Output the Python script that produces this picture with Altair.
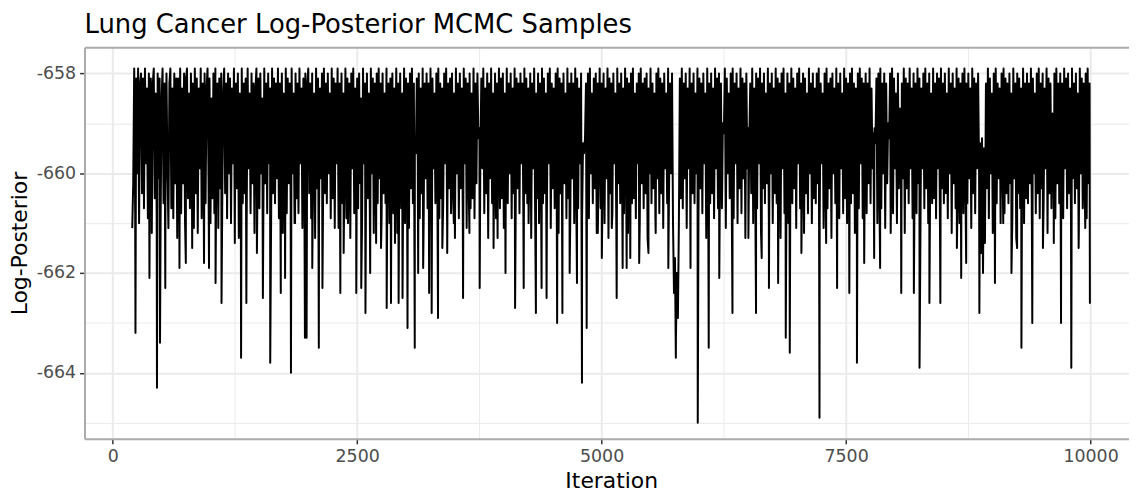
import altair as alt
import pandas as pd

TITLE = "Lung Cancer Log-Posterior MCMC Samples"
X_TITLE = "Iteration"
Y_TITLE = "Log-Posterior"

x_major = [0, 2500, 5000, 7500, 10000]
x_minor = [1250, 3750, 6250, 8750]
y_major = [-658, -660, -662, -664]
y_minor = [-659, -661, -663, -665]
x_domain = [-288, 10393]
y_domain = [-665.324, -657.475]

# thinned trace (one value every 10 iterations)
step = 10
lp_0200 = [
    -661.1, -660.2, -657.9, -660.8, -658.1, -660.0, -657.9, -661.0, -658.2, -658.0,
    -660.4, -658.1, -660.7, -657.9, -659.8, -658.3, -660.9, -658.0, -660.3, -658.1,
    -661.2, -658.2, -657.9, -660.5, -658.4, -660.9, -658.0, -660.1, -658.1, -661.0,
    -658.5, -657.9, -660.6, -658.2, -660.3, -658.0, -659.9, -661.1, -658.2, -657.9,
    -660.7, -658.3, -660.9, -658.0, -660.2, -658.1, -661.3, -658.1, -659.8, -657.9]
lp_0700 = [
    -660.8, -658.3, -660.2, -658.0, -661.0, -658.1, -657.9, -660.5, -658.4, -660.7,
    -658.0, -660.0, -658.2, -661.1, -657.9, -660.4, -658.1, -661.2, -658.3, -659.9,
    -657.9, -660.9, -658.2, -660.3, -658.0, -660.6, -658.3, -657.9, -660.1, -658.1,
    -661.0, -658.5, -660.5, -658.0, -660.8, -657.9, -659.9, -658.2, -661.1, -658.1,
    -660.3, -658.0, -660.7, -658.4, -657.9, -660.4, -658.2, -660.9, -658.0, -660.0]
lp_1200 = [
    -658.1, -661.0, -658.3, -659.8, -657.9, -660.7, -658.2, -660.3, -658.0, -661.3,
    -658.4, -660.1, -657.9, -660.6, -658.2, -660.4, -658.1, -661.0, -657.9, -659.9,
    -658.4, -660.8, -658.0, -660.2, -658.2, -661.2, -658.3, -657.9, -660.5, -658.1,
    -660.7, -658.0, -660.0, -658.5, -661.1, -657.9, -660.2, -658.2, -660.8, -658.0,
    -659.8, -658.3, -661.0, -657.9, -660.4, -658.1, -660.6, -658.2, -660.1, -657.9]
lp_1700 = [
    -660.9, -658.2, -660.3, -658.0, -661.2, -658.4, -659.9, -657.9, -660.8, -658.1,
    -660.2, -658.2, -660.6, -657.9, -660.0, -658.4, -661.0, -658.0, -660.5, -658.2,
    -660.8, -657.9, -659.8, -658.3, -661.1, -658.1, -660.2, -658.0, -660.7, -658.2,
    -657.9, -660.4, -658.2, -660.9, -658.0, -659.9, -658.4, -661.3, -657.9, -660.3,
    -658.1, -660.8, -658.3, -660.1, -658.0, -661.0, -657.9, -660.4, -658.2, -660.6]
lp_2200 = [
    -658.0, -660.0, -658.4, -660.9, -657.9, -660.5, -658.1, -660.7, -658.2, -659.8,
    -657.9, -661.1, -658.2, -660.3, -658.0, -660.6, -658.4, -660.1, -657.9, -660.9,
    -658.1, -660.4, -658.2, -661.3, -658.0, -659.9, -657.9, -660.8, -658.3, -660.3,
    -658.1, -660.7, -658.0, -660.2, -658.5, -661.0, -657.9, -659.8, -658.2, -660.7,
    -658.0, -660.5, -658.4, -660.9, -657.9, -660.0, -658.1, -661.2, -658.2, -660.3]
lp_2700 = [
    -658.0, -660.6, -657.9, -660.1, -658.2, -660.9, -658.0, -660.4, -658.4, -660.6,
    -657.9, -659.9, -658.2, -661.0, -658.1, -660.3, -658.0, -660.8, -658.3, -659.8,
    -657.9, -661.2, -658.2, -660.2, -658.0, -660.7, -658.4, -660.5, -657.9, -661.0,
    -658.1, -660.0, -658.2, -661.1, -658.0, -660.3, -657.9, -660.6, -658.2, -659.4,
    -659.6, -658.1, -659.8, -658.0, -660.9, -658.3, -660.4, -657.9, -661.0, -658.2]
lp_3200 = [
    -660.1, -658.0, -660.7, -658.2, -660.3, -657.9, -661.2, -658.1, -659.9, -658.4,
    -660.6, -658.0, -660.2, -657.9, -660.9, -658.2, -660.5, -658.3, -660.6, -658.0,
    -659.8, -657.9, -661.0, -658.2, -660.3, -658.1, -660.8, -658.0, -660.4, -658.4,
    -661.3, -657.9, -660.0, -658.2, -660.9, -658.0, -660.3, -658.3, -660.7, -657.9,
    -659.8, -658.1, -661.1, -658.2, -660.2, -658.0, -660.7, -658.4, -660.5, -657.9]
lp_3700 = [
    -660.9, -658.2, -660.2, -658.0, -659.3, -659.1, -659.6, -658.1, -659.9, -657.9,
    -660.8, -658.3, -660.4, -658.0, -661.3, -658.2, -660.1, -657.9, -660.6, -658.4,
    -660.3, -658.0, -660.9, -658.2, -659.8, -657.9, -660.7, -658.1, -660.5, -658.0,
    -661.1, -658.4, -660.2, -657.9, -660.6, -658.2, -660.0, -658.0, -660.9, -658.3,
    -660.4, -657.9, -661.2, -658.1, -660.3, -658.2, -660.8, -658.0, -659.8, -658.2]
lp_4200 = [
    -661.0, -657.9, -660.4, -658.1, -660.6, -658.3, -660.1, -658.0, -661.3, -658.2,
    -659.9, -657.9, -660.8, -658.4, -660.5, -658.0, -661.0, -658.2, -660.2, -657.9,
    -660.6, -658.1, -660.4, -658.4, -660.9, -658.0, -659.8, -657.9, -661.1, -658.2,
    -660.3, -658.3, -660.7, -658.0, -660.0, -657.9, -661.2, -658.1, -660.4, -658.2,
    -660.6, -658.0, -660.2, -658.4, -660.9, -657.9, -660.5, -658.2, -660.8, -658.0]
lp_4700 = [
    -660.1, -658.2, -661.0, -657.9, -660.4, -658.1, -660.7, -658.3, -659.8, -658.0,
    -660.9, -659.4, -659.6, -659.3, -658.2, -660.5, -658.0, -660.9, -657.9, -660.0,
    -658.4, -660.6, -658.1, -660.3, -658.0, -661.2, -658.2, -659.9, -657.9, -660.7,
    -658.2, -660.3, -658.0, -661.0, -658.3, -660.1, -657.9, -661.3, -658.1, -660.4,
    -658.2, -660.8, -658.0, -659.8, -658.4, -661.0, -657.9, -660.2, -658.2, -660.6]
lp_5200 = [
    -658.0, -660.3, -658.3, -660.8, -657.9, -659.9, -658.1, -661.2, -658.2, -660.3,
    -658.0, -660.6, -657.9, -660.5, -658.4, -660.9, -658.2, -659.8, -658.0, -661.0,
    -657.9, -660.2, -658.2, -660.7, -658.1, -660.4, -658.0, -661.3, -658.3, -660.0,
    -657.9, -660.6, -658.2, -660.3, -658.4, -660.9, -658.0, -660.1, -657.9, -660.8,
    -658.1, -660.4, -658.2, -661.1, -658.0, -659.9, -658.4, -660.6, -657.9, -660.2]
lp_5700 = [
    -658.2, -660.0, -658.0, -661.0, -662.4, -661.7, -663.3, -662.0, -662.9, -661.0,
    -658.1, -660.5, -657.9, -660.7, -658.2, -660.1, -658.0, -661.1, -658.3, -659.9,
    -657.9, -660.8, -658.2, -660.4, -658.0, -660.6, -658.4, -660.0, -657.9, -661.0,
    -658.1, -660.3, -658.2, -660.8, -658.0, -659.8, -658.4, -661.3, -657.9, -660.2,
    -658.2, -660.6, -658.0, -660.4, -658.3, -660.9, -657.9, -659.9, -658.1, -660.7]
lp_6200 = [
    -658.0, -660.2, -658.2, -660.7, -659.0, -659.2, -657.9, -661.1, -658.1, -660.0,
    -658.4, -660.5, -658.0, -660.4, -657.9, -660.9, -658.2, -659.8, -658.0, -661.0,
    -658.3, -660.3, -657.9, -660.8, -658.1, -660.1, -658.2, -661.3, -658.0, -659.9,
    -659.1, -659.3, -658.2, -660.4, -657.9, -661.0, -658.3, -660.1, -658.0, -660.7,
    -658.1, -659.8, -657.9, -661.2, -658.2, -660.3, -658.0, -660.6, -658.4, -660.2]
lp_6700 = [
    -657.9, -660.9, -658.2, -660.0, -658.0, -661.0, -658.3, -660.4, -657.9, -660.6,
    -658.1, -660.2, -658.2, -661.3, -658.0, -659.9, -657.9, -660.8, -658.4, -660.5,
    -658.0, -661.0, -658.2, -660.1, -657.9, -660.6, -658.1, -660.3, -658.3, -661.1,
    -658.0, -659.8, -657.9, -660.7, -658.2, -660.2, -658.0, -661.2, -658.1, -660.4,
    -658.4, -660.8, -657.9, -660.0, -658.2, -661.0, -658.0, -660.5, -658.3, -660.6]
lp_7200 = [
    -658.0, -660.2, -657.9, -660.9, -658.2, -659.8, -658.4, -661.1, -658.0, -660.4,
    -657.9, -660.7, -658.2, -660.3, -658.1, -661.3, -658.0, -660.0, -658.3, -660.6,
    -657.9, -660.4, -658.2, -660.9, -658.0, -659.9, -658.4, -660.8, -657.9, -660.5,
    -658.1, -661.0, -658.2, -660.1, -658.0, -660.6, -657.9, -660.4, -658.2, -661.2,
    -658.3, -660.2, -658.0, -660.7, -657.9, -659.8, -658.1, -660.9, -658.2, -660.3]
lp_7700 = [
    -658.0, -660.8, -658.2, -660.2, -657.9, -660.6, -658.3, -659.9, -659.2, -659.1,
    -659.4, -658.1, -661.0, -658.0, -660.4, -657.9, -660.7, -658.2, -660.0, -658.0,
    -661.1, -658.2, -660.2, -659.0, -659.3, -658.0, -660.5, -657.9, -660.8, -658.1,
    -659.9, -658.4, -661.0, -658.0, -660.3, -658.7, -658.9, -658.2, -660.1, -657.9,
    -661.2, -658.1, -660.3, -658.2, -660.6, -657.9, -659.9, -658.3, -660.9, -658.0]
lp_8200 = [
    -660.4, -658.2, -660.8, -657.9, -660.2, -658.1, -661.3, -658.3, -659.9, -658.0,
    -660.7, -657.9, -660.3, -658.2, -661.0, -658.0, -660.1, -658.4, -660.6, -657.9,
    -660.5, -658.2, -660.9, -658.0, -659.9, -658.1, -661.1, -657.9, -660.3, -658.2,
    -660.6, -658.0, -660.4, -658.4, -660.9, -657.9, -660.0, -658.2, -661.2, -658.0,
    -660.2, -658.3, -660.7, -657.9, -660.5, -658.1, -661.0, -658.2, -659.8, -658.0]
lp_8700 = [
    -660.8, -657.9, -660.3, -658.2, -660.6, -658.0, -660.1, -658.3, -661.1, -657.9,
    -660.4, -658.1, -660.8, -658.2, -659.9, -658.0, -660.0, -659.4, -661.6, -659.3,
    -662.0, -659.5, -661.4, -658.2, -660.3, -657.9, -660.9, -658.1, -660.0, -658.4,
    -661.2, -658.0, -660.5, -657.9, -660.6, -658.2, -660.1, -658.3, -661.0, -658.0,
    -659.9, -657.9, -660.8, -658.1, -660.4, -658.2, -660.6, -658.0, -660.2, -658.4]
lp_9200 = [
    -660.9, -657.9, -660.1, -658.2, -661.3, -658.0, -660.4, -658.1, -660.7, -658.3,
    -659.8, -657.9, -661.0, -658.2, -660.5, -658.0, -660.6, -658.2, -660.2, -657.9,
    -661.1, -658.1, -660.0, -658.4, -660.8, -658.0, -660.4, -657.9, -660.9, -658.2,
    -660.3, -658.0, -660.6, -658.3, -659.9, -657.9, -661.2, -658.1, -660.4, -658.2,
    -660.7, -658.8, -659.0, -658.0, -660.9, -657.9, -660.2, -658.2, -660.6, -658.0]
lp_9700 = [
    -660.3, -658.2, -660.9, -657.9, -659.9, -658.1, -660.7, -658.0, -660.4, -658.3,
    -661.0, -657.9, -660.1, -658.2, -660.6, -658.0, -660.3, -658.4, -661.2, -657.9,
    -660.0, -658.1, -660.7, -658.2, -660.4, -658.0, -660.9, -657.9, -660.2, -658.2,
    -662.6]

chunks = {
    200: lp_0200, 700: lp_0700, 1200: lp_1200, 1700: lp_1700, 2200: lp_2200,
    2700: lp_2700, 3200: lp_3200, 3700: lp_3700, 4200: lp_4200, 4700: lp_4700,
    5200: lp_5200, 5700: lp_5700, 6200: lp_6200, 6700: lp_6700, 7200: lp_7200,
    7700: lp_7700, 8200: lp_8200, 8700: lp_8700, 9200: lp_9200, 9700: lp_9700,
}

# single-iteration dips visible as thin downward spikes
spike_iterations = [
    233, 376, 453, 484, 538, 683, 748, 813, 934, 985,
    1052, 1113, 1249, 1313, 1367, 1475, 1536, 1611, 1719, 1763,
    1823, 1865, 1966, 1983, 2041, 2108, 2145, 2271, 2328, 2362,
    2406, 2491, 2542, 2585, 2633, 2694, 2744, 2802, 2846, 2887,
    2924, 2964, 3015, 3089, 3124, 3175, 3236, 3262, 3327, 3371,
    3421, 3489, 3583, 3648, 3753, 3895, 3936, 4017, 4115, 4203,
    4253, 4328, 4386, 4437, 4545, 4599, 4673, 4748, 4799, 4847,
    4961, 5002, 5104, 5154, 5215, 5256, 5293, 5384, 5479, 5553,
    5682, 5759, 5909, 5983, 6095, 6203, 6338, 6501, 6579, 6637,
    6711, 6805, 6883, 6924, 7043, 7228, 7296, 7408, 7533, 7611,
    7685, 7787, 7848, 7956, 8064, 8193, 8251, 8352, 8464, 8633,
    8677, 8728, 8863, 9022, 9107, 9191, 9249, 9293, 9404, 9513,
    9624, 9698, 9803, 9878, 9946, 9993]
spike_values = [
    -663.2, -662.1, -664.3, -663.4, -662.3, -661.9, -661.8, -661.5, -661.8, -661.9,
    -662.2, -662.6, -661.4, -663.7, -662.6, -661.6, -662.5, -663.8, -662.4, -662.1,
    -664.0, -661.0, -663.3, -663.3, -661.9, -663.5, -662.3, -661.1, -662.4, -661.6,
    -661.0, -662.4, -662.3, -662.8, -662.0, -661.4, -661.5, -662.7, -662.6, -661.4,
    -662.6, -662.5, -663.1, -663.5, -662.0, -661.9, -662.4, -662.8, -662.9, -661.5,
    -661.6, -661.0, -662.5, -661.2, -662.3, -661.5, -661.3, -662.0, -662.7, -662.3,
    -661.0, -662.8, -662.3, -662.5, -663.0, -662.8, -662.0, -662.2, -664.2, -663.1,
    -661.2, -661.7, -661.1, -662.5, -661.9, -661.9, -661.7, -661.8, -661.6, -661.2,
    -661.9, -663.7, -661.9, -665.0, -663.5, -662.1, -662.8, -661.3, -662.8, -661.7,
    -662.3, -662.2, -663.3, -663.6, -661.6, -664.9, -661.4, -662.3, -662.4, -663.8,
    -661.8, -661.7, -661.9, -661.2, -662.4, -662.4, -663.9, -662.6, -662.6, -661.5,
    -662.1, -661.8, -662.8, -662.2, -661.0, -662.0, -661.5, -663.5, -663.0, -661.5,
    -661.4, -663.0, -663.9, -661.5, -661.1, -662.6]

rows = []
for start, vals in chunks.items():
    for j, v in enumerate(vals):
        rows.append((start + step * j, v))
for it, v in zip(spike_iterations, spike_values):
    rows.append((it, v))
df = pd.DataFrame(rows, columns=["iteration", "log_posterior"]).sort_values("iteration")

FONT = "DejaVu Sans"
x_scale = alt.Scale(domain=x_domain, nice=False, zero=False)
y_scale = alt.Scale(domain=y_domain, nice=False, zero=False)

grid_layer = alt.Chart(df).mark_line(strokeOpacity=0).encode(
    x=alt.X("iteration:Q", scale=x_scale,
            axis=alt.Axis(orient="top", values=x_minor, grid=True, gridWidth=1,
                          ticks=False, labels=False, domain=True, title=None)),
    y=alt.Y("log_posterior:Q", scale=y_scale,
            axis=alt.Axis(orient="right", values=y_minor, grid=True, gridWidth=1,
                          ticks=False, labels=False, domain=False, title=None)),
)

trace = alt.Chart(df).mark_line(color="black", strokeWidth=2, strokeJoin="round").encode(
    x=alt.X("iteration:Q", scale=x_scale,
            axis=alt.Axis(values=x_major, grid=True, gridWidth=2,
                          labelExpr="'' + datum.value", labelPadding=4, tickSize=5,
                          title=X_TITLE, titleX=530, titleY=49, titleAlign="center",
                          titleBaseline="alphabetic")),
    y=alt.Y("log_posterior:Q", scale=y_scale,
            axis=alt.Axis(values=y_major, grid=True, gridWidth=2,
                          labelExpr="'' + datum.value", labelPadding=4, tickSize=5,
                          title=Y_TITLE, titleX=-58, titleY=197, titleAngle=270,
                          titleAlign="center", titleBaseline="alphabetic")),
)

chart = alt.layer(grid_layer, trace).resolve_axis(
    x="independent", y="independent"
).properties(
    width=1051,
    height=394,
    autosize=alt.AutoSizeParams(type="none"),
    padding={"left": 77, "top": 38, "right": 0, "bottom": 55},
    title=alt.TitleParams(TITLE, anchor="start", frame="group", fontSize=26, font=FONT,
                          fontWeight="normal", color="black", baseline="alphabetic",
                          offset=14, dy=26),
).configure_view(stroke=None).configure_axis(
    labelFont=FONT, titleFont=FONT, labelFontSize=17.5, titleFontSize=22,
    labelColor="#4D4D4D", titleColor="black", titleFontWeight="normal",
    tickColor="#333333", tickWidth=1.5, domainColor="#ABABAB", domainWidth=2,
    gridColor="#EBEBEB", labelFlush=False, labelOverlap=False,
)

chart.save("out.html", embed_options={"renderer": "svg", "actions": False})
